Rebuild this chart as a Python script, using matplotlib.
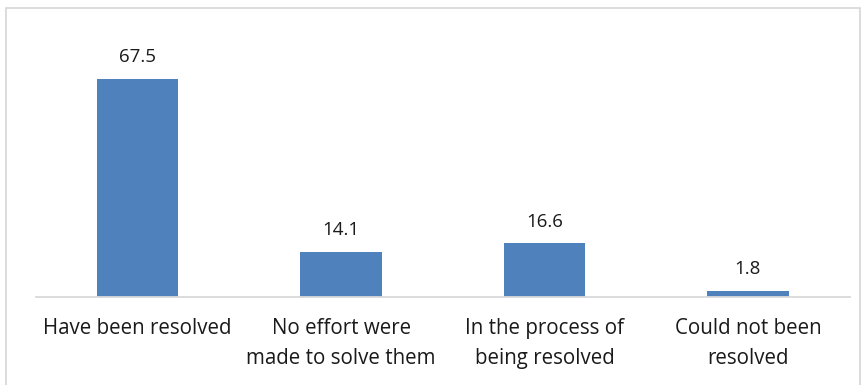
import numpy as np
import matplotlib.pyplot as plt
from matplotlib.patches import Rectangle

categories = ['Have been resolved', 'No effort were\nmade to solve them',
              'In the process of\nbeing resolved', 'Could not been\nresolved']
values = [67.5, 14.1, 16.6, 1.8]

plt.rcParams['font.family'] = ['Open Sans', 'DejaVu Sans']

fig = plt.figure(figsize=(8.67, 3.85), dpi=100)
ax = fig.add_axes([0.0415, 0.2286, 0.9385, 0.670])

x = np.arange(len(categories))
ax.bar(x, values, width=0.4, color='#4F81BD', zorder=2)
for xi, v in zip(x, values):
    ax.text(xi, v + 4.0, f'{v:.1f}', ha='center', va='bottom',
            fontsize=13.5, color='#1a1a1a')

ax.set_xlim(-0.5, len(categories) - 0.5)
ax.set_ylim(0, 80)
ax.set_xticks(x)
ax.set_xticklabels(categories, fontsize=14.8, color='#1a1a1a', linespacing=1.55)
ax.tick_params(axis='x', length=0, pad=15)
ax.set_yticks([])
for s in ['top', 'right', 'left']:
    ax.spines[s].set_visible(False)
ax.spines['bottom'].set_color('#D9D9D9')
ax.spines['bottom'].set_linewidth(1.3)

border = Rectangle((6 / 867, -0.05), 854 / 867, 1.05 - 8 / 385,
                   transform=fig.transFigure, fill=False,
                   edgecolor='#D9D9D9', linewidth=1.3, clip_on=False)
fig.patches.append(border)

fig.savefig('out.png', dpi=100)
